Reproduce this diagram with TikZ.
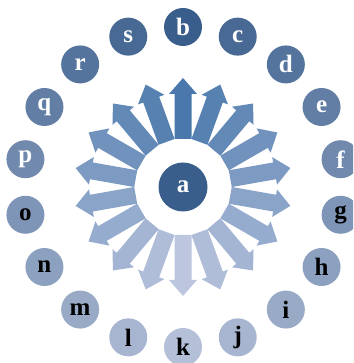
\documentclass[tikz,border=0pt]{standalone}
\usepackage{fontspec}
\setmainfont{Liberation Serif}
\definecolor{hubDark}{HTML}{3A5E8C}
\definecolor{hubLight}{HTML}{B4C0D8}
\definecolor{rayDark}{HTML}{4A78AC}
\definecolor{rayLight}{HTML}{BCC6DE}
\tikzset{
  hub letter/.style={font=\bfseries\fontsize{25}{25}\selectfont},
  hub node/.style={circle, inner sep=0pt, minimum size=38pt, hub letter},
  hub centre/.style={circle, inner sep=0pt, minimum size=49pt, fill=hubDark, text=white, hub letter},
}

\begin{document}
\begin{tikzpicture}[x=1pt,y=1pt]
  \clip (0,0) rectangle (353,363);
  % Ring of block arrows, dark at the top and pale at the bottom
  \foreach \i in {0,...,17}{
    \pgfmathtruncatemacro{\d}{min(\i,18-\i)}
    \pgfmathtruncatemacro{\p}{100-round(\d*100/9)}
    \begin{scope}[shift={(183,176)}, rotate={90-20*\i}]
      \fill[rayDark!\p!rayLight] (48,-8.5) -- (93,-8.5) -- (93,-14) -- (109,0)
        -- (93,14) -- (93,8.5) -- (48,8.5) -- cycle;
    \end{scope}
  }
  % Centre
  \node[hub centre] (a) at (183,176) {a};
  % Outer letters, clockwise from the top
  \foreach \n [count=\i from 0] in {b,...,s}{
    \pgfmathtruncatemacro{\d}{min(\i,18-\i)}
    \pgfmathtruncatemacro{\p}{100-round(\d*100/9)}
    \ifnum\d<5 \def\tc{white}\else\def\tc{black}\fi
    \node[hub node, fill=hubDark!\p!hubLight, text=\tc] (\n)
      at ([shift={({90-20*\i}:160)}]a.center) {\n};
  }
\end{tikzpicture}
\end{document}
